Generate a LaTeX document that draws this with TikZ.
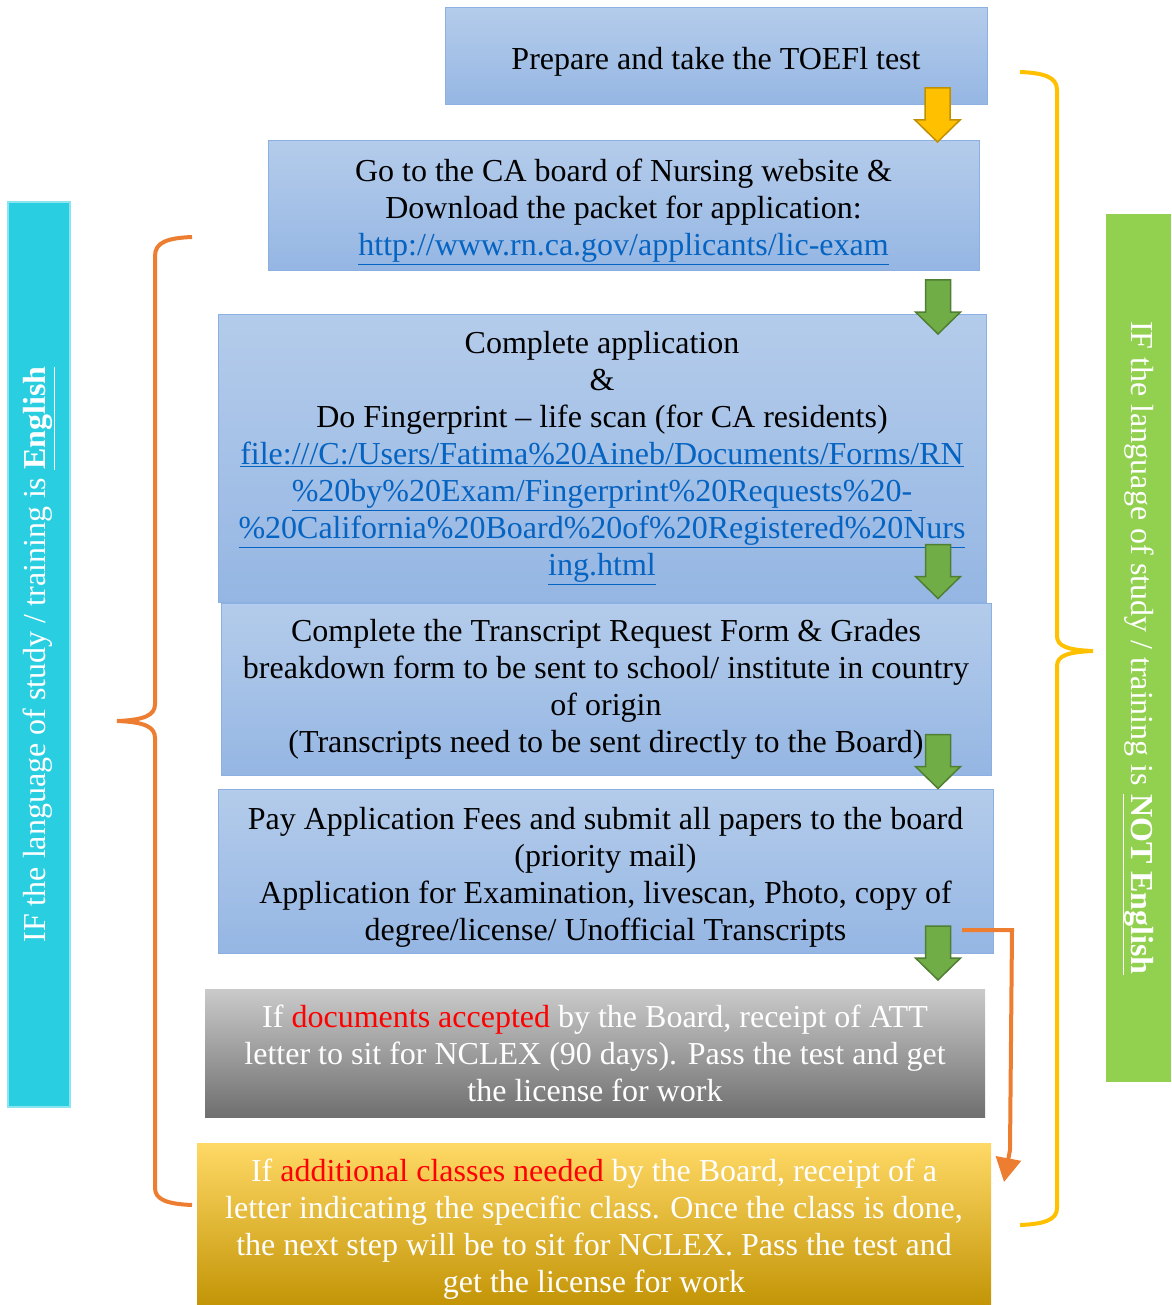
\documentclass[tikz,border=0pt]{standalone}
\usepackage{fontspec}
\setmainfont{Liberation Serif}
\usetikzlibrary{arrows.meta}
\definecolor{boxtop}{HTML}{B4CCEB}
\definecolor{boxbot}{HTML}{95B6E3}
\definecolor{boxline}{HTML}{8DB0E2}
\definecolor{linkblue}{HTML}{0563C1}
\definecolor{cyanbar}{HTML}{29CFE1}
\definecolor{cyanline}{HTML}{8BE5F0}
\definecolor{greenbar}{HTML}{92D050}
\definecolor{bracelft}{HTML}{ED7D31}
\definecolor{bracergt}{HTML}{FFC000}
\definecolor{grytop}{HTML}{CACACA}
\definecolor{grybot}{HTML}{6F6F6F}
\definecolor{ylwtop}{HTML}{FFD966}
\definecolor{ylwmid}{HTML}{FFC000}
\definecolor{ylwbot}{HTML}{BF9000}
\definecolor{garrow}{HTML}{70AD47}
\definecolor{garrowline}{HTML}{507E32}
\newcommand{\lnk}[1]{\textcolor{linkblue}{\underline{#1}}}
\newcommand{\hot}[1]{\textcolor{red}{#1}}
\tikzset{
  stepbox/.style={draw=boxline,line width=1pt,top color=boxtop,bottom color=boxbot,align=center,inner sep=0pt,execute at begin node={\rule{0pt}{32pt}}},
  steptext/.style={align=center,inner sep=0pt},
  pics/blockdown/.style={code={\draw[line width=1.5pt,#1] (-12.5,-27) -- (12.5,-27) -- (12.5,5) -- (22.5,5) -- (0,27) -- (-22.5,5) -- (-12.5,5) -- cycle;}}
}
\begin{document}
\begin{tikzpicture}[x=1pt,y=-1pt,font=\fontsize{32}{37}\selectfont]
        \useasboundingbox (0,0) rectangle (1171,1305);
        % side bars
        \node[draw=cyanline,line width=1.5pt,fill=cyanbar,minimum width=62pt,minimum height=905pt,inner sep=0pt](eng)at(39,654.5){};
        \node[rotate=90,text=white](engtxt)at(eng.center){IF the language of study / training is \underline{\textbf{English}}};
        \node[fill=greenbar,minimum width=65pt,minimum height=868pt,inner sep=0pt](noteng)at(1138.5,648){};
        \node[rotate=-90,text=white](notengtxt)at(noteng.center){IF the language of study / training is \underline{\textbf{NOT English}}};
        % steps
        \node[stepbox,minimum width=542pt,minimum height=97pt](toefl)at(716,56.5){Prepare and take the TOEFl test};
        \node[stepbox,minimum width=711pt,minimum height=130pt](packet)at(623.5,206){};
        \node[steptext](packettxt)at([yshift=-6pt]packet.center){Go to the CA board of Nursing website \&\\Download the packet for application:\\\lnk{http://www.rn.ca.gov/applicants/lic-exam}};
        \node[stepbox,minimum width=768pt,minimum height=288pt](apply)at(602,458){Complete application\\\&\\Do Fingerprint – life scan (for CA residents)\\\lnk{file:///C:/Users/Fatima\%20Aineb/Documents/Forms/RN}\\\lnk{\%20by\%20Exam/Fingerprint\%20Requests\%20-}\\\lnk{\%20California\%20Board\%20of\%20Registered\%20Nurs}\\\lnk{ing.html}};
        \node[stepbox,minimum width=770pt,minimum height=172pt](transcript)at(606,689){Complete the Transcript Request Form \& Grades\\breakdown form to be sent to school/ institute in country\\of origin\\(Transcripts need to be sent directly to the Board)};
        \node[stepbox,minimum width=775pt,minimum height=164pt](fees)at(605.5,871){};
        \node[steptext](feestxt)at([yshift=-6pt]fees.center){Pay Application Fees and submit all papers to the board\\(priority mail)\\Application for Examination, livescan, Photo, copy of\\degree/license/ Unofficial Transcripts};
        \node[top color=grytop,bottom color=grybot,text=white,align=center,minimum width=780pt,minimum height=128pt,inner sep=0pt](accepted)at(595,1053){If \hot{documents accepted} by the Board, receipt of ATT\\letter to sit for NCLEX (90 days). Pass the test and get\\the license for work};
        \node[top color=ylwtop,middle color=ylwmid,bottom color=ylwbot,text=white,align=center,minimum width=794pt,minimum height=172pt,inner sep=0pt](classes)at(594,1229){If \hot{additional classes needed} by the Board, receipt of a\\letter indicating the specific class. Once the class is done,\\the next step will be to sit for NCLEX. Pass the test and\\get the license for work};
        % block arrows
        \pic at (937.5,115) {blockdown={fill=bracergt,draw=ylwbot}};
        \foreach \ay in {307,571.5,761.5,953} \pic at (938,\ay) {blockdown={fill=garrow,draw=garrowline}};
        % braces
        \draw[bracelft,line width=4pt](192,237) .. controls (168,238) and (155,242) .. (155,256) -- (155,704) .. controls (155,715) and (145,720) .. (117,721) .. controls (145,722) and (155,727) .. (155,738) -- (155,1188) .. controls (155,1200) and (168,1204) .. (192,1205);
        \draw[bracergt,line width=4pt](1020,72) .. controls (1044,73) and (1057,77) .. (1057,90) -- (1057,636) .. controls (1057,646) and (1067,650) .. (1093,651) .. controls (1067,652) and (1057,656) .. (1057,666) -- (1057,1208) .. controls (1057,1220) and (1044,1224) .. (1020,1225);
        % orange connector
        \coordinate(cfrom)at(962,930);
        \coordinate(cto)at(1004,1182);
        \draw[bracelft,line width=4pt,-{Triangle[width=25pt,length=24pt]}](cfrom)--(1012,930)--(1010,1150)--(cto);
\end{tikzpicture}
\end{document}
